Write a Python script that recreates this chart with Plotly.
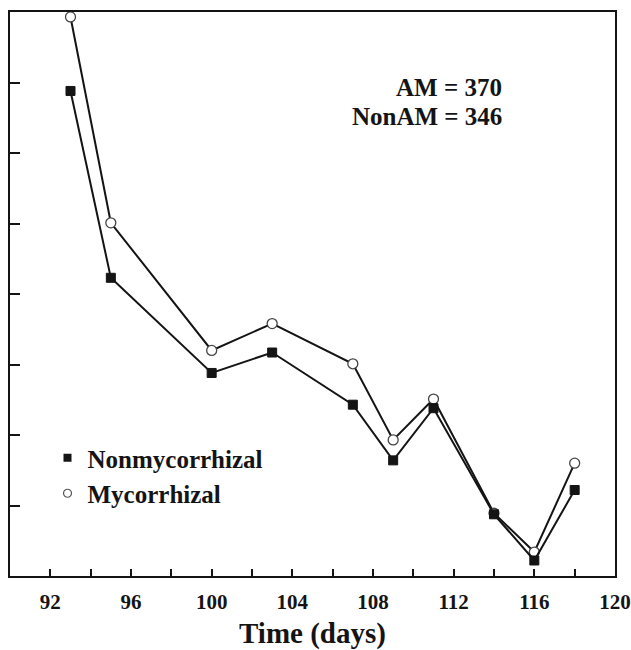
import plotly.graph_objects as go

# Sampling days
days = [93, 95, 100, 103, 107, 109, 111, 114, 116, 118]

# Series values (arbitrary units, y axis unlabelled)
nonmycorrhizal = [68.8, 42.3, 28.8, 31.7, 24.3, 16.4, 23.8, 8.75, 2.2, 12.2]
mycorrhizal = [79.3, 50.1, 32.0, 35.8, 30.1, 19.3, 25.1, 8.9, 3.4, 16.0]

x_tick_vals = [92, 96, 100, 104, 108, 112, 116, 120]
x_tick_text = [str(v) for v in x_tick_vals]

SERIF = "Liberation Serif, Times New Roman, serif"
INK = "#141414"

fig = go.Figure()

fig.add_trace(go.Scatter(
    x=days, y=mycorrhizal, mode="lines+markers", showlegend=False,
    line=dict(color=INK, width=2),
    marker=dict(symbol="circle", size=10, color="white",
                line=dict(color="#444444", width=1.3)),
))
fig.add_trace(go.Scatter(
    x=days, y=nonmycorrhizal, mode="lines+markers", showlegend=False,
    line=dict(color=INK, width=2),
    marker=dict(symbol="square", size=9, color=INK,
                line=dict(color=INK, width=1)),
))

# Legend entries (markers only)
fig.add_trace(go.Scatter(
    x=[None], y=[None], mode="markers", name="Nonmycorrhizal",
    marker=dict(symbol="square", size=8, color=INK),
))
fig.add_trace(go.Scatter(
    x=[None], y=[None], mode="markers", name="Mycorrhizal",
    marker=dict(symbol="circle", size=8, color="white",
                line=dict(color="#555555", width=1.2)),
))

fig.add_annotation(
    x=0.817, y=0.867, xref="paper", yref="paper", xanchor="right", yanchor="middle",
    text="<b>AM = 370</b>", showarrow=False,
    font=dict(family=SERIF, size=25, color=INK), align="right",
)
fig.add_annotation(
    x=0.817, y=0.814, xref="paper", yref="paper", xanchor="right", yanchor="middle",
    text="<b>NonAM = 346</b>", showarrow=False,
    font=dict(family=SERIF, size=25, color=INK), align="right",
)

fig.update_layout(
    width=631, height=650,
    margin=dict(l=10, r=16, t=12, b=74, autoexpand=False),
    paper_bgcolor="white", plot_bgcolor="white",
    font=dict(family=SERIF, color=INK),
    legend=dict(
        x=0.062, y=0.25, xanchor="left", yanchor="top",
        bgcolor="rgba(0,0,0,0)",
        font=dict(family=SERIF, size=25, color=INK, weight="bold"),
        itemwidth=30, tracegroupgap=0,
    ),
    xaxis=dict(
        range=[90, 120], automargin=False,
        tickvals=x_tick_vals, ticktext=x_tick_text,
        ticks="inside", ticklen=7, tickwidth=1.5, tickcolor=INK,
        minor=dict(dtick=2, tick0=90, ticks="inside", ticklen=7,
                   tickwidth=1.5, tickcolor=INK),
        tickfont=dict(family=SERIF, size=21, color=INK, weight="bold"),
        ticklabelstandoff=6,
        showline=True, linecolor=INK, linewidth=2, mirror=True,
        showgrid=False, zeroline=False,
        title=dict(text="<b>Time (days)</b>", standoff=11,
                   font=dict(family=SERIF, size=29, color=INK)),
    ),
    yaxis=dict(
        range=[0, 80], dtick=10, automargin=False,
        ticks="inside", ticklen=10, tickwidth=1.5, tickcolor=INK,
        showticklabels=False,
        showline=True, linecolor=INK, linewidth=2, mirror=True,
        showgrid=False, zeroline=False,
    ),
)

fig.write_html("out.html")
